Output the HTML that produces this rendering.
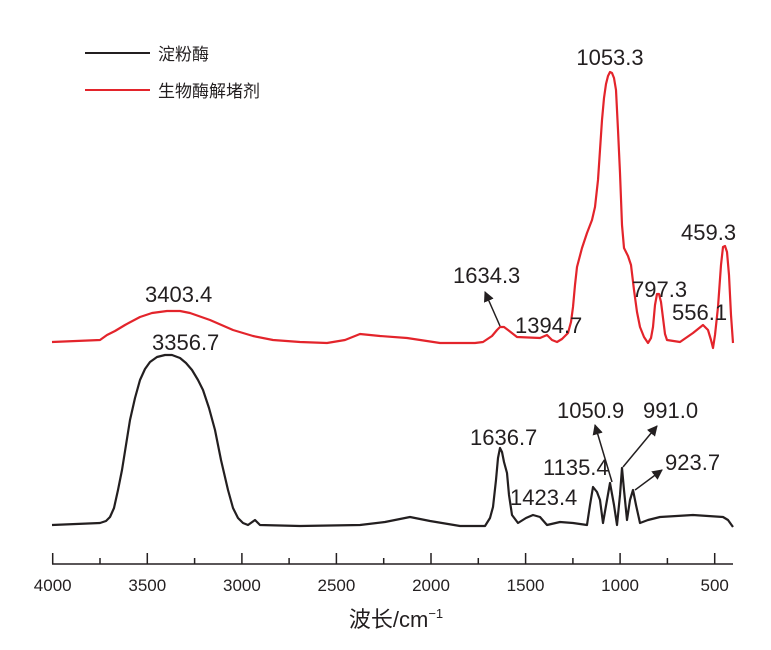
<!DOCTYPE html>
<html><head><meta charset="utf-8"><style>
body{margin:0;background:#fff}
svg{display:block}
text{font-family:"Liberation Sans","Noto Sans CJK SC",sans-serif;fill:#231f20}
</style></head><body>
<svg width="771" height="650" viewBox="0 0 771 650" xmlns="http://www.w3.org/2000/svg">
<defs><marker id="ar" viewBox="0 0 10 10" refX="9" refY="5" markerWidth="7" markerHeight="7" orient="auto"><path d="M0,0L10,5L0,10z" fill="#231f20"/></marker></defs>
<line x1="85" y1="53" x2="150" y2="53" stroke="#231f20" stroke-width="2"/>
<text x="158" y="60" font-size="17">淀粉酶</text>
<line x1="85" y1="90" x2="150" y2="90" stroke="#e3242b" stroke-width="2"/>
<text x="158" y="97" font-size="17">生物酶解堵剂</text>
<polyline fill="none" stroke="#e3242b" stroke-width="2.2" stroke-linejoin="round" points="52,342 100,340 107,335 115,331 125,325 140,317 152,313 167,311 180,311 190,313 210,320 233,330 253,336 273,340 300,342 327,343 345,340 360,334 380,336 407,338 440,343 460,343 475,343 483,342 492,336 497,330 500,327 504,327 508,330 517,337 540,338 547,335 552,340 557,342 562,339 568,333 571,322 573,307 575,285 577,267 582,248 587,233 592,220 595,207 598,180 600,150 602,120 604,98 606,84 608,76 610,72 612,73 614,78 616,90 618,130 620,173 622,225 624,248 628,256 631,265 634,290 637,312 640,327 644,337 648,343 651,338 653,327 655,305 657,294 659,294 661,302 663,318 665,334 667,340 680,342 693,333 703,325 708,330 711,340 713,348 715,335 718,307 721,265 723,247 725,246 727,252 729,275 731,315 733,343"/>
<polyline fill="none" stroke="#231f20" stroke-width="2.2" stroke-linejoin="round" points="52,525 100,523 106,521 110,517 114,508 118,490 122,470 126,445 130,420 135,398 140,380 145,369 150,362 157,357 165,355 172,355 180,358 186,363 192,370 198,380 203,390 209,408 215,430 221,460 228,490 233,508 238,518 243,523 248,525 255,520 260,525 300,526 360,525 385,522 410,517 430,521 460,526 485,526 490,518 493,507 496,480 498,458 500,448 502,452 504,462 507,473 509,495 512,515 518,523 526,518 533,515 540,517 547,525 560,522 573,523 587,525 590,505 593,487 597,492 600,500 603,523 607,500 610,483 614,505 617,525 620,495 622,468 624,490 627,520 630,500 633,490 636,505 640,523 648,520 660,517 693,515 723,517 728,520 733,527"/>
<line x1="500" y1="326" x2="485" y2="292" stroke="#231f20" stroke-width="1.5" marker-end="url(#ar)"/>
<line x1="612" y1="482" x2="595" y2="425" stroke="#231f20" stroke-width="1.5" marker-end="url(#ar)"/>
<line x1="623" y1="467" x2="657" y2="426" stroke="#231f20" stroke-width="1.5" marker-end="url(#ar)"/>
<line x1="635" y1="490" x2="662" y2="470" stroke="#231f20" stroke-width="1.5" marker-end="url(#ar)"/>
<g font-size="22">
<text x="610" y="65" text-anchor="middle">1053.3</text>
<text x="681" y="240">459.3</text>
<text x="632" y="297">797.3</text>
<text x="672" y="320">556.1</text>
<text x="515" y="333">1394.7</text>
<text x="453" y="283">1634.3</text>
<text x="145" y="302">3403.4</text>
<text x="152" y="350">3356.7</text>
<text x="470" y="445">1636.7</text>
<text x="557" y="418">1050.9</text>
<text x="643" y="418">991.0</text>
<text x="543" y="475">1135.4</text>
<text x="665" y="470">923.7</text>
<text x="510" y="505">1423.4</text>
</g>
<line x1="52" y1="564" x2="733" y2="564" stroke="#231f20" stroke-width="1.5"/>
<g stroke="#231f20" stroke-width="1.5">
<line x1="52.7" y1="564" x2="52.7" y2="553"/><line x1="147.3" y1="564" x2="147.3" y2="553"/><line x1="241.9" y1="564" x2="241.9" y2="553"/><line x1="336.4" y1="564" x2="336.4" y2="553"/><line x1="431" y1="564" x2="431" y2="553"/><line x1="525.6" y1="564" x2="525.6" y2="553"/><line x1="620.1" y1="564" x2="620.1" y2="553"/><line x1="714.7" y1="564" x2="714.7" y2="553"/>
<line x1="100" y1="564" x2="100" y2="558"/><line x1="194.6" y1="564" x2="194.6" y2="558"/><line x1="289.1" y1="564" x2="289.1" y2="558"/><line x1="383.7" y1="564" x2="383.7" y2="558"/><line x1="478.3" y1="564" x2="478.3" y2="558"/><line x1="572.9" y1="564" x2="572.9" y2="558"/><line x1="667.4" y1="564" x2="667.4" y2="558"/>
</g>
<g font-size="17" text-anchor="middle">
<text x="52.7" y="591">4000</text><text x="147.3" y="591">3500</text><text x="241.9" y="591">3000</text><text x="336.4" y="591">2500</text><text x="431" y="591">2000</text><text x="525.6" y="591">1500</text><text x="620.1" y="591">1000</text><text x="714.7" y="591">500</text>
</g>
<text x="396" y="627" font-size="22" text-anchor="middle">波长/cm<tspan font-size="13" dy="-9">−1</tspan></text>
</svg>
</body></html>
